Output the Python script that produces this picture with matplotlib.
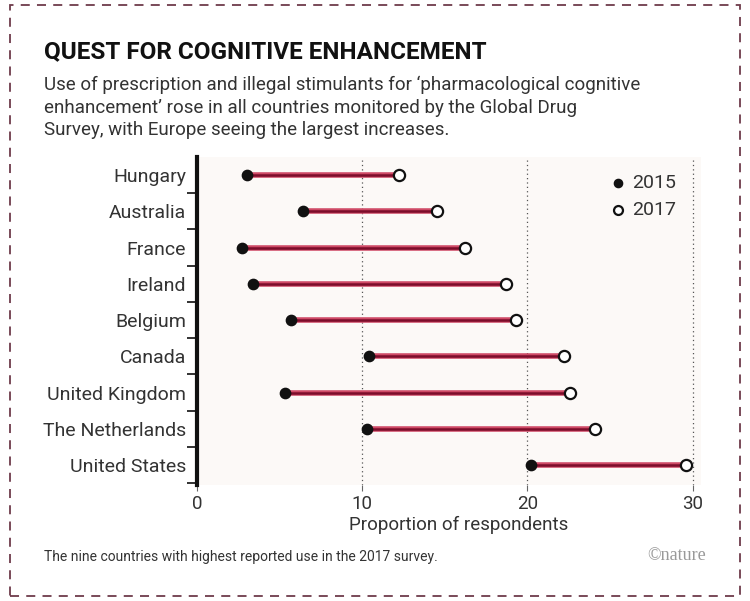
import numpy as np
import matplotlib.pyplot as plt
from matplotlib.patches import Rectangle

countries = ["Hungary", "Australia", "France", "Ireland", "Belgium", "Canada",
             "United Kingdom", "The Netherlands", "United States"]
use_2015 = [3.0, 6.4, 2.7, 3.4, 5.7, 10.4, 5.3, 10.3, 20.2]
use_2017 = [12.2, 14.5, 16.2, 18.7, 19.3, 22.2, 22.6, 24.1, 29.6]
x_ticks = [0, 10, 20, 30]

plt.rcParams['font.family'] = ['Roboto', 'DejaVu Sans']

fig = plt.figure(figsize=(7.5, 6.01), dpi=100)
fig.patch.set_facecolor('white')

# dashed frame round the whole graphic
fig.patches.append(Rectangle((10 / 750, 5 / 601), 730 / 750, 591 / 601,
                             transform=fig.transFigure, fill=False,
                             edgecolor='#6e3b4b', linestyle=(0, (5, 4)), linewidth=1.3))

ax = fig.add_axes([197 / 750, 1 - 485 / 601, 504 / 750, 328 / 601])
ax.set_facecolor('#fcf9f7')

y = np.arange(len(countries))
# pink-red halo with a dark core, like the printed line
ax.hlines(y, use_2015, use_2017, color='#cf4a66', linewidth=4.0, zorder=2)
ax.hlines(y, use_2015, use_2017, color='#7c0d2b', linewidth=1.8, zorder=2)
ax.scatter(use_2015, y, s=55, color='#111111', zorder=3, label='2015')
ax.scatter(use_2017, y, s=65, facecolor='white', edgecolor='#111111',
           linewidth=1.6, zorder=3, label='2017')

ax.set_xlim(0, 30.5)
ax.set_ylim(8.55, -0.5)
ax.set_xticks(x_ticks)
ax.set_yticks(y)
ax.set_yticklabels(countries, fontsize=14, color='#333333')
ax.set_yticks(y + 0.5, minor=True)
ax.tick_params(axis='y', which='major', length=0, pad=8)
ax.tick_params(axis='y', which='minor', length=7, width=1.3, color='#222222')
ax.tick_params(axis='x', length=4, width=0.8, color='#666666', labelsize=13.5,
               labelcolor='#333333', pad=3)
for xv in x_ticks[1:]:
    ax.axvline(xv, color='#555555', linestyle=(0, (1, 2.5)), linewidth=0.9, zorder=1)

for s in ['top', 'right', 'bottom']:
    ax.spines[s].set_visible(False)
ax.spines['left'].set_linewidth(3)
ax.spines['left'].set_color('#111111')

ax.set_xlabel('Proportion of respondents', fontsize=13.5, color='#333333')
ax.xaxis.set_label_coords(0.52, -0.095)

leg = ax.legend(loc='upper right', bbox_to_anchor=(0.985, 1.0), frameon=False,
                fontsize=14, handletextpad=0.2, labelspacing=0.45, handlelength=1.0,
                markerscale=0.8, labelcolor='#333333')

fig.text(44 / 750, 1 - 52 / 601, 'QUEST FOR COGNITIVE ENHANCEMENT', fontsize=17.5,
         fontweight='bold', color='#111111', va='center', ha='left')
fig.text(44 / 750, 1 - 76 / 601,
         'Use of prescription and illegal stimulants for \u2018pharmacological cognitive\n'
         'enhancement\u2019 rose in all countries monitored by the Global Drug\n'
         'Survey, with Europe seeing the largest increases.',
         fontsize=13.5, color='#333333', va='top', ha='left', linespacing=1.3)
fig.text(44 / 750, 1 - 557 / 601,
         'The nine countries with highest reported use in the 2017 survey.',
         fontsize=10, color='#333333', va='center', ha='left')
fig.text(706 / 750, 1 - 555 / 601, '\u00a9nature', fontsize=13, color='#999999',
         va='center', ha='right', family=['Liberation Serif', 'DejaVu Serif'])

fig.savefig('out.png', dpi=100, facecolor='white')
